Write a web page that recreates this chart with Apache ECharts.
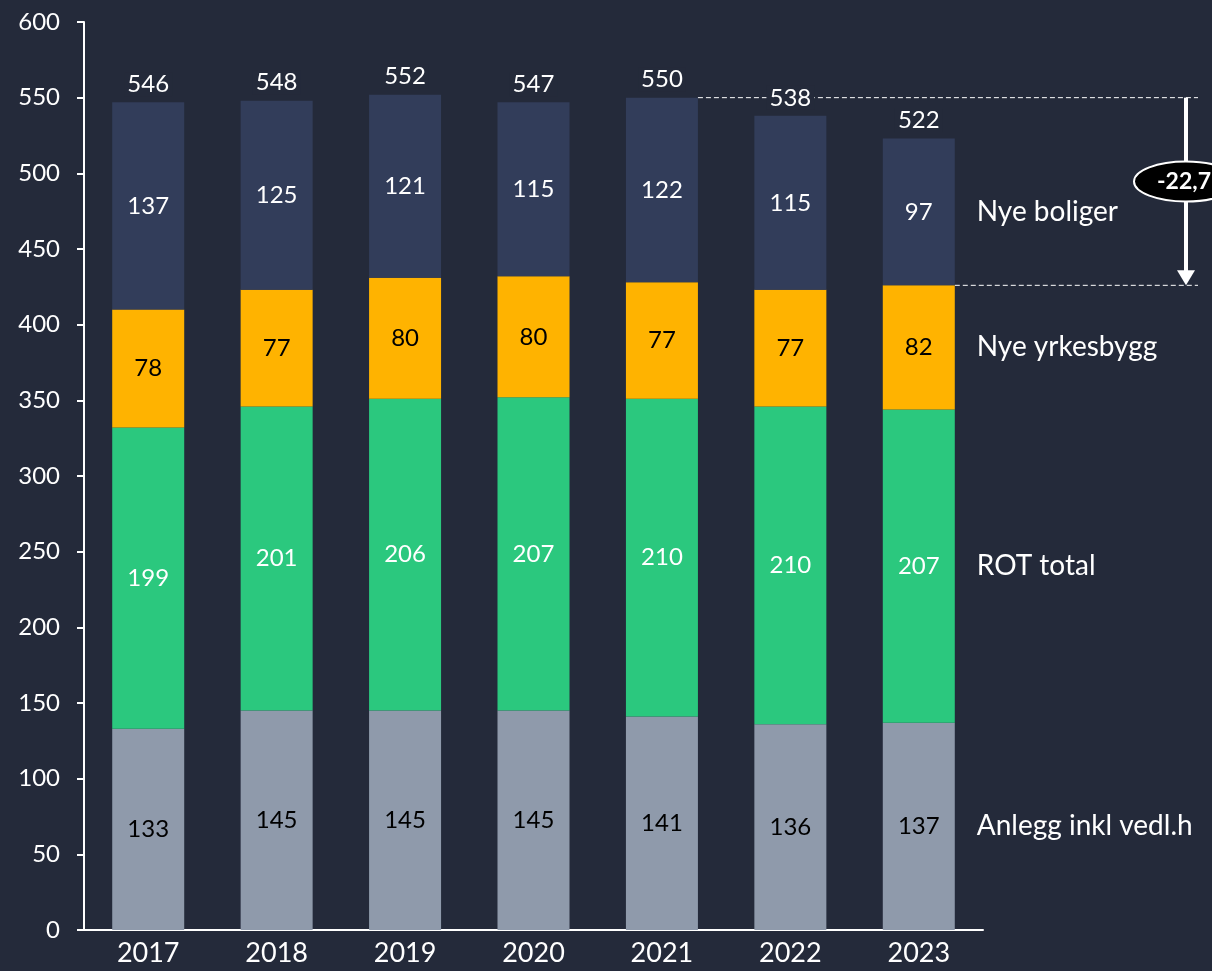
<!DOCTYPE html>
<html>
<head>
<meta charset="utf-8">
<script src="https://cdn.jsdelivr.net/npm/echarts@6/dist/echarts.min.js"></script>
<style>
  html,body{margin:0;padding:0;background:#242a3a;}
  #chart{width:1212px;height:971px;}
</style>
</head>
<body>
<div id="chart"></div>
<script>
const years = ["2017","2018","2019","2020","2021","2022","2023"]
const anlegg = [133,145,145,145,141,136,137]
const rot = [199,201,206,207,210,210,207]
const yrkesbygg = [78,77,80,80,77,77,82]
const boliger = [137,125,121,115,122,115,97]
const totals = [546,548,552,547,550,538,522]
const seriesNames = ["Anlegg inkl vedl.h","ROT total","Nye yrkesbygg","Nye boliger"]
const changeLabel = "-22,7"

const font = "Lato"
const bg = "#242a3a"
const barW = 72
const stacks = [anlegg,rot,yrkesbygg,boliger]
const colors = ["#8f9aab","#2bc87e","#ffb300","#323d5a"]
const labelColors = ["#000","#fff","#000","#fff"]
const last = years.length-1

const chart = echarts.init(document.getElementById("chart"))

// stacked segments
const barSeries = stacks.map((data,i)=>({
    name:seriesNames[i],
    type:"bar",
    stack:"total",
    barWidth:barW,
    data:data,
    itemStyle:{color:colors[i]},
    label:{show:true,position:"inside",color:labelColors[i],fontFamily:font,fontSize:24},
    animation:false
}))

// totals on top of each bar
const totalSeries = {
    type:"bar",
    stack:"total",
    barWidth:barW,
    data:years.map(()=>0),
    label:{
        show:true,position:"top",distance:6,color:"#fff",fontFamily:font,fontSize:24,
        backgroundColor:bg,padding:[0,3],
        formatter:p=>totals[p.dataIndex]
    },
    animation:false
}

// series names to the right of the last bar, at the middle of each segment
let below = 0
const nameSeries = stacks.map((data,i)=>{
    const mid = below + data[last]/2
    below += data[last]
    return {
        type:"scatter",
        symbolSize:0,
        data:[[last,mid]],
        itemStyle:{opacity:1},
        label:{show:true,position:"right",distance:58,color:"#fff",opacity:1,fontFamily:font,fontSize:28,
            formatter:()=>seriesNames[i]},
        emphasis:{disabled:true},
        animation:false
    }
})

chart.setOption({
    backgroundColor:bg,
    grid:{left:84,right:229,top:22,bottom:41},
    xAxis:{
        type:"category",
        data:years,
        axisLine:{lineStyle:{color:"#fff",width:2}},
        axisTick:{show:false},
        axisLabel:{color:"#fff",fontFamily:font,fontSize:27,margin:10}
    },
    yAxis:{
        type:"value",
        min:0,max:600,interval:50,
        axisLine:{show:true,lineStyle:{color:"#fff",width:2}},
        axisTick:{show:true,length:7,lineStyle:{color:"#fff",width:2}},
        splitLine:{show:false},
        axisLabel:{color:"#fff",fontFamily:font,fontSize:24,margin:24}
    },
    series:[...barSeries,totalSeries,...nameSeries]
})

// annotation: drop from 2021 total to top of 2023 yrkesbygg
const sum = (idx,n)=>stacks.slice(0,n).reduce((s,a)=>s+a[idx],0)
const topA = chart.convertToPixel({xAxisIndex:0,yAxisIndex:0},[4,sum(4,4)])
const topB = chart.convertToPixel({xAxisIndex:0,yAxisIndex:0},[last,sum(last,3)])
const arrowX = 1186
const lineEnd = 1198
const midY = (topA[1]+topB[1])/2
const dash = {stroke:"#fff",lineWidth:1,lineDash:[5,3]}

chart.setOption({
    graphic:[
        {type:"line",shape:{x1:topA[0]+barW/2,y1:topA[1],x2:lineEnd,y2:topA[1]},style:dash,z:1},
        {type:"line",shape:{x1:topB[0]+barW/2,y1:topB[1],x2:lineEnd,y2:topB[1]},style:dash,z:1},
        {type:"line",shape:{x1:arrowX,y1:topA[1],x2:arrowX,y2:topB[1]-14},style:{stroke:"#fff",lineWidth:4},z:5},
        {type:"polygon",shape:{points:[[arrowX-9,topB[1]-15],[arrowX+9,topB[1]-15],[arrowX,topB[1]]]},style:{fill:"#fff"},z:5},
        {type:"ellipse",shape:{cx:arrowX,cy:midY-10,rx:52,ry:20},style:{fill:"#000",stroke:"#fff",lineWidth:2},z:6},
        {type:"text",x:arrowX-2,y:midY-10,style:{text:changeLabel,fill:"#fff",font:"bold 23px "+font,align:"center",verticalAlign:"middle"},z:7}
    ]
})
</script>
</body>
</html>
